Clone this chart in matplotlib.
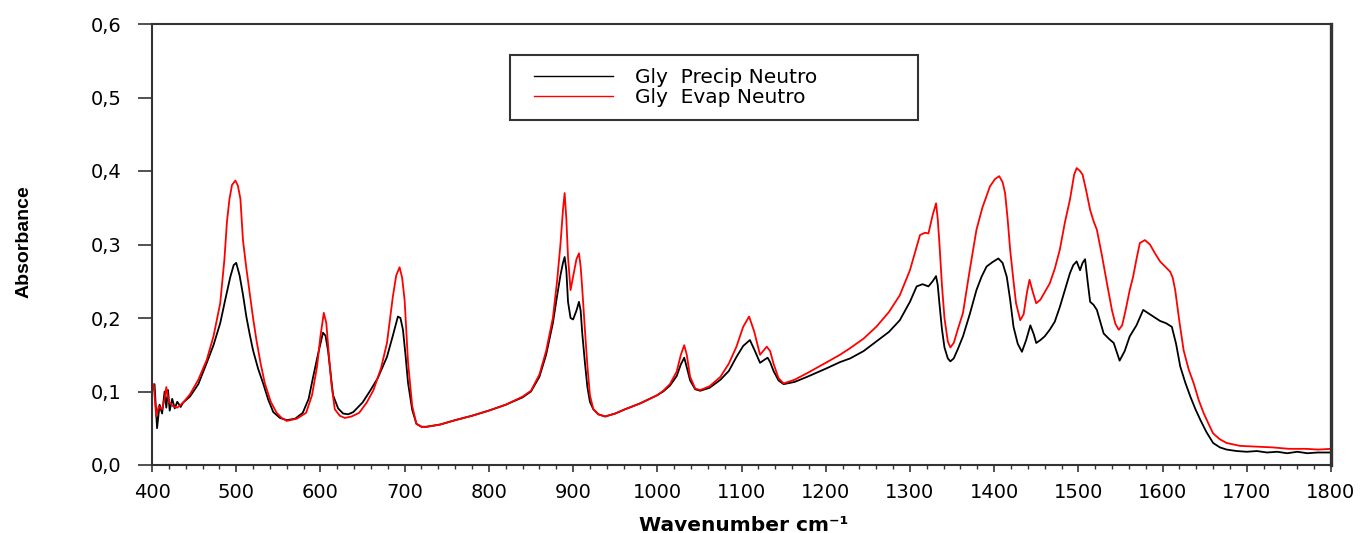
import matplotlib
matplotlib.use("Agg")
import matplotlib.pyplot as plt
from matplotlib.patches import Rectangle

# ---------------- data ----------------
wn_precip = [400, 403, 406, 409, 412, 415, 417, 419, 421, 424, 427, 430, 434, 437, 445, 455, 465, 473, 481, 487,
             493, 497, 500, 504, 508, 512, 516, 520, 526, 532, 538, 544, 552, 560, 570, 579, 586, 591, 597, 603,
             606, 609, 612, 615, 621, 627, 633, 639, 650, 659, 668, 679, 686, 692, 695, 698, 701, 704, 709, 714,
             720, 726, 742, 760, 780, 800, 820, 840, 850, 860, 868, 876, 881, 885, 888, 890, 892, 894, 897, 900,
             904, 907, 909, 911, 914, 917, 920, 924, 930, 938, 950, 960, 980, 1000, 1007, 1015, 1023, 1028, 1032, 1035,
             1039, 1045, 1051, 1062, 1075, 1085, 1094, 1102, 1110, 1116, 1122, 1127, 1131, 1134, 1138, 1144, 1150, 1163, 1178, 1200,
             1217, 1229, 1245, 1260, 1275, 1288, 1300, 1308, 1315, 1322, 1327, 1331, 1333, 1335, 1338, 1341, 1345, 1348, 1352, 1357,
             1363, 1371, 1379, 1385, 1391, 1398, 1405, 1410, 1415, 1419, 1423, 1428, 1433, 1438, 1443, 1447, 1450, 1455, 1460, 1466,
             1472, 1478, 1484, 1490, 1494, 1498, 1502, 1505, 1508, 1511, 1514, 1518, 1522, 1526, 1530, 1536, 1542, 1549, 1555, 1561,
             1569, 1577, 1581, 1589, 1597, 1604, 1611, 1616, 1621, 1627, 1633, 1639, 1645, 1652, 1660, 1668, 1676, 1688, 1700, 1712,
             1724, 1736, 1748, 1760, 1772, 1784, 1800]
abs_precip = [0.100, 0.110, 0.050, 0.082, 0.070, 0.100, 0.078, 0.102, 0.074, 0.090, 0.077, 0.086, 0.079, 0.085, 0.093, 0.110, 0.139, 0.163, 0.193, 0.225,
              0.256, 0.272, 0.275, 0.258, 0.232, 0.202, 0.178, 0.156, 0.131, 0.111, 0.089, 0.072, 0.064, 0.061, 0.063, 0.071, 0.090, 0.118, 0.150, 0.180,
              0.176, 0.156, 0.125, 0.095, 0.077, 0.070, 0.069, 0.072, 0.085, 0.101, 0.118, 0.147, 0.176, 0.202, 0.200, 0.184, 0.150, 0.112, 0.075, 0.056,
              0.052, 0.052, 0.055, 0.061, 0.067, 0.074, 0.082, 0.092, 0.100, 0.120, 0.150, 0.193, 0.230, 0.258, 0.275, 0.283, 0.265, 0.222, 0.200, 0.198,
              0.210, 0.222, 0.210, 0.178, 0.140, 0.106, 0.086, 0.076, 0.069, 0.066, 0.070, 0.075, 0.084, 0.095, 0.100, 0.108, 0.121, 0.137, 0.146, 0.133,
              0.115, 0.103, 0.101, 0.105, 0.116, 0.128, 0.147, 0.162, 0.170, 0.155, 0.139, 0.143, 0.146, 0.140, 0.128, 0.115, 0.110, 0.113, 0.120, 0.131,
              0.140, 0.145, 0.155, 0.168, 0.181, 0.197, 0.222, 0.243, 0.246, 0.243, 0.250, 0.257, 0.245, 0.220, 0.185, 0.160, 0.145, 0.141, 0.145, 0.158,
              0.175, 0.205, 0.238, 0.256, 0.270, 0.276, 0.281, 0.275, 0.256, 0.225, 0.188, 0.165, 0.154, 0.170, 0.190, 0.178, 0.166, 0.170, 0.175, 0.184,
              0.195, 0.215, 0.238, 0.261, 0.272, 0.277, 0.265, 0.275, 0.280, 0.250, 0.222, 0.218, 0.211, 0.195, 0.179, 0.172, 0.166, 0.142, 0.155, 0.175,
              0.190, 0.211, 0.208, 0.202, 0.196, 0.193, 0.188, 0.165, 0.134, 0.112, 0.093, 0.076, 0.061, 0.045, 0.030, 0.024, 0.021, 0.019, 0.018, 0.019,
              0.017, 0.018, 0.016, 0.018, 0.016, 0.017, 0.017]

wn_evap = [400, 402, 405, 408, 412, 415, 417, 420, 425, 430, 437, 445, 455, 465, 473, 481, 486, 489, 492, 495,
           499, 502, 505, 508, 512, 516, 520, 524, 529, 534, 541, 548, 554, 560, 572, 583, 590, 596, 600, 604,
           607, 610, 613, 617, 623, 629, 637, 646, 655, 663, 672, 679, 686, 690, 694, 697, 700, 704, 709, 714,
           720, 726, 742, 760, 780, 800, 820, 840, 850, 860, 868, 876, 881, 885, 888, 890, 892, 894, 897, 900,
           904, 907, 909, 911, 914, 917, 920, 924, 930, 938, 950, 960, 980, 1000, 1007, 1015, 1023, 1028, 1032, 1035,
           1039, 1045, 1051, 1062, 1075, 1085, 1094, 1102, 1109, 1115, 1122, 1127, 1130, 1134, 1138, 1144, 1150, 1163, 1178, 1200,
           1217, 1229, 1245, 1260, 1275, 1288, 1300, 1312, 1318, 1322, 1327, 1331, 1333, 1335, 1338, 1341, 1345, 1348, 1352, 1357,
           1363, 1371, 1379, 1386, 1395, 1401, 1406, 1410, 1413, 1416, 1419, 1423, 1426, 1431, 1435, 1439, 1442, 1446, 1450, 1455,
           1460, 1466, 1472, 1478, 1484, 1490, 1495, 1498, 1502, 1505, 1509, 1514, 1518, 1522, 1528, 1534, 1540, 1544, 1548, 1552,
           1556, 1561, 1565, 1569, 1573, 1579, 1585, 1591, 1597, 1603, 1609, 1612, 1615, 1620, 1625, 1631, 1637, 1643, 1649, 1655,
           1660, 1668, 1676, 1692, 1710, 1730, 1750, 1770, 1785, 1800]
abs_evap = [0.100, 0.110, 0.066, 0.080, 0.076, 0.090, 0.106, 0.086, 0.080, 0.078, 0.085, 0.096, 0.116, 0.143, 0.175, 0.220, 0.280, 0.331, 0.362, 0.381,
            0.387, 0.380, 0.362, 0.306, 0.268, 0.234, 0.200, 0.170, 0.138, 0.111, 0.086, 0.071, 0.064, 0.060, 0.063, 0.071, 0.095, 0.134, 0.175, 0.207,
            0.193, 0.150, 0.111, 0.076, 0.067, 0.064, 0.066, 0.071, 0.085, 0.102, 0.132, 0.166, 0.229, 0.258, 0.269, 0.255, 0.224, 0.140, 0.080, 0.056,
            0.052, 0.052, 0.055, 0.061, 0.067, 0.074, 0.082, 0.093, 0.101, 0.123, 0.155, 0.200, 0.250, 0.300, 0.347, 0.370, 0.335, 0.283, 0.238, 0.256,
            0.280, 0.288, 0.270, 0.238, 0.185, 0.135, 0.095, 0.076, 0.069, 0.066, 0.070, 0.075, 0.084, 0.095, 0.101, 0.110, 0.127, 0.150, 0.163, 0.150,
            0.120, 0.104, 0.102, 0.107, 0.120, 0.138, 0.161, 0.188, 0.202, 0.182, 0.150, 0.157, 0.161, 0.155, 0.138, 0.118, 0.111, 0.116, 0.125, 0.139,
            0.150, 0.159, 0.172, 0.188, 0.208, 0.231, 0.265, 0.313, 0.316, 0.315, 0.340, 0.356, 0.335, 0.302, 0.245, 0.200, 0.168, 0.160, 0.166, 0.185,
            0.207, 0.265, 0.320, 0.350, 0.379, 0.389, 0.393, 0.385, 0.370, 0.335, 0.293, 0.250, 0.220, 0.197, 0.205, 0.235, 0.252, 0.235, 0.220, 0.225,
            0.235, 0.247, 0.267, 0.293, 0.330, 0.361, 0.395, 0.404, 0.400, 0.395, 0.375, 0.347, 0.332, 0.320, 0.285, 0.247, 0.210, 0.192, 0.184, 0.190,
            0.210, 0.238, 0.256, 0.280, 0.302, 0.306, 0.300, 0.288, 0.277, 0.270, 0.263, 0.255, 0.238, 0.195, 0.156, 0.130, 0.111, 0.088, 0.070, 0.055,
            0.043, 0.035, 0.030, 0.026, 0.025, 0.024, 0.022, 0.022, 0.021, 0.022]

series_labels = ["Gly  Precip Neutro", "Gly  Evap Neutro"]
x_ticks = [400, 500, 600, 700, 800, 900, 1000, 1100, 1200, 1300, 1400, 1500, 1600, 1700, 1800]
x_tick_labels = [str(v) for v in x_ticks]
y_ticks = [0.0, 0.1, 0.2, 0.3, 0.4, 0.5, 0.6]
y_tick_labels = ["0,0", "0,1", "0,2", "0,3", "0,4", "0,5", "0,6"]
x_label = "Wavenumber cm⁻¹"
y_label = "Absorbance"

# ---------------- figure ----------------
W, H = 1370, 533
fig = plt.figure(figsize=(W / 100, H / 100), dpi=100)
L, R, T, B = 152, 1331, 24, 465
ax = fig.add_axes([L / W, 1 - B / H, (R - L) / W, (B - T) / H])

l1, = ax.plot(wn_precip, abs_precip, color="black", lw=1.3)
l2, = ax.plot(wn_evap, abs_evap, color="#ff0000", lw=1.3)

ax.set_xlim(400, 1800)
ax.set_ylim(0, 0.6)
ax.set_xticks(x_ticks)
ax.set_xticklabels(x_tick_labels)
ax.set_xticks(range(420, 1800, 20), minor=True)
ax.set_yticks(y_ticks)
ax.set_yticklabels(y_tick_labels)

spine_col = "#333333"
for s in ["left", "bottom", "top"]:
    ax.spines[s].set_linewidth(1.5)
    ax.spines[s].set_color(spine_col)
ax.spines["right"].set_linewidth(2.4)
ax.spines["right"].set_color(spine_col)

ax.tick_params(axis="y", which="major", direction="out", length=10, width=1.2,
               color=spine_col, pad=12, labelsize=14, labelcolor="black")
ax.tick_params(axis="x", which="major", direction="out", length=5, width=1.2,
               color=spine_col, pad=8, labelsize=14, labelcolor="black")
ax.tick_params(axis="x", which="minor", direction="out", length=3, width=1.0,
               color=spine_col)

# axis labels
fig.text(744 / W, 2 / H, x_label, ha="center", va="baseline",
         fontsize=14.5, fontweight="bold", family="DejaVu Sans")
fig.text(24 / W, 1 - 242 / H, y_label, ha="center", va="center", rotation=90,
         fontsize=14, fontweight="bold", family=["Liberation Sans", "DejaVu Sans"])

# legend frame and entries
ax.add_patch(Rectangle(((510 - L) / (R - L), (B - 120) / (B - T)),
                       (918 - 510) / (R - L), (120 - 55) / (B - T),
                       transform=ax.transAxes, facecolor="white",
                       edgecolor="#333333", lw=1.5, zorder=5))
leg = ax.legend([l1, l2], series_labels, loc="center left",
                bbox_to_anchor=((534 - L) / (R - L), (B - 87.5) / (B - T)),
                frameon=False, borderpad=0, borderaxespad=0,
                handlelength=3.9, handletextpad=1.1, labelspacing=0.05,
                fontsize=14.5)
leg.set_zorder(6)
for h in leg.legend_handles:
    h.set_linewidth(1.0)

fig.savefig("out.png", dpi=100)
